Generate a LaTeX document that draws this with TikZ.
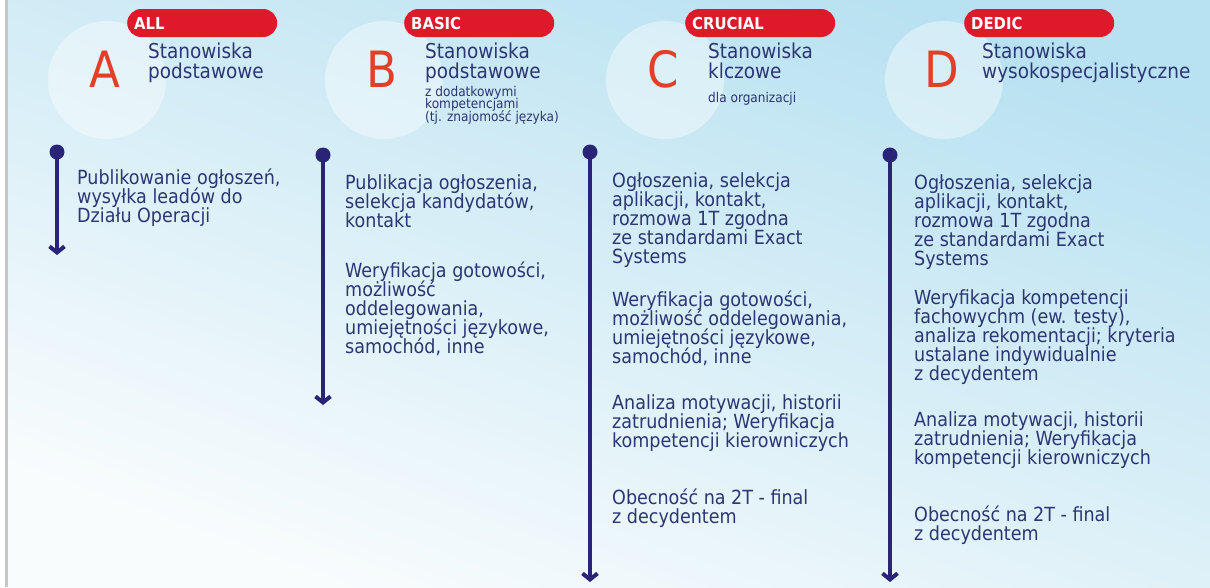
\documentclass[tikz,border=0pt]{standalone}
\usepackage{fontspec}
\setmainfont{DejaVu Sans Condensed}
\usetikzlibrary{arrows.meta,positioning}
\setlength{\lineskiplimit}{-20pt}
\definecolor{ink}{RGB}{42,36,120}
\definecolor{txt}{RGB}{44,54,114}
\definecolor{tagred}{RGB}{224,24,44}
\definecolor{letred}{RGB}{228,62,40}
\definecolor{skyx}{RGB}{184,225,241}
\definecolor{palex}{RGB}{249,252,253}
\tikzset{
    firstline/.style={anchor=north west,yshift=#1,execute at begin node={\rule{0pt}{#1}}},
    bubble/.style={circle,fill=white,opacity=0.4,minimum size=118pt,inner sep=0pt},
    letter/.style={letred,font=\fontsize{50}{50}\selectfont,inner sep=0pt,anchor=base},
    tag/.style={fill=tagred,rounded corners=14pt,minimum width=150pt,minimum height=28pt,
        text width=136pt,align=left,inner xsep=7pt,inner ysep=0pt,
        text=white,font=\bfseries\fontsize{16.5}{16}\selectfont},
    title/.style={txt,font=\fontsize{20.5}{19.5}\selectfont,align=left,inner sep=0pt,firstline=20pt},
    note/.style={txt,font=\fontsize{13.5}{12.3}\selectfont,align=left,inner sep=0pt,firstline=14pt},
    stage/.style={txt,font=\fontsize{19.5}{19}\selectfont,align=left,inner sep=0pt,firstline=20pt},
    dot/.style={circle,fill=ink,inner sep=0pt,minimum size=15pt},
    timeline/.style={ink,line width=4pt,-{Straight Barb[length=6pt,width=15pt]}}
}

\begin{document}
\begin{tikzpicture}[x=1pt,y=-1pt]
    \useasboundingbox (0,0) rectangle (1210,587);
    \fill[white] (0,0) rectangle (1210,587);
    \shade[top color=skyx,bottom color=palex,shading angle=-20] (7,0) rectangle (1210,587);
    \draw[gray!45,line width=2.5pt] (6.5,0) -- (6.5,587);
    \foreach \n/\x/\lab in {A/107/ALL,B/384/BASIC,C/665/CRUCIAL,D/944/DEDIC} {
        \node [bubble] (bub\n) at (\x,80) {};
        \node [letter] (let\n) at (\x-2,87) {\n};
        \node [tag,anchor=west] (tag\n) at (\x+20,23) {\lab};
    }
    \node [title] (titA) at (148,63) {Stanowiska\\podstawowe};
    \node [title] (titB) at (425,63) {Stanowiska\\podstawowe};
    \node [note] (noteB) at (425,100) {z dodatkowymi\\kompetencjami\\(tj. znajomość języka)};
    \node [title] (titC) at (708,63) {Stanowiska\\klczowe};
    \node [note] (noteC) at (708,102) {dla organizacji};
    \node [title] (titD) at (982,63) {Stanowiska\\wysokospecjalistyczne};
    \foreach \n/\x/\y/\e in {A/57/152/255,B/323/155/405,C/590/152/582,D/890/155/582} {
        \coordinate (end\n) at (\x,\e);
        \node [dot] (dot\n) at (\x,\y) {};
        \draw [timeline] (dot\n.center) -- (end\n);
    }
    \node [stage] (a1) at (77,189) {Publikowanie ogłoszeń,\\wysyłka leadów do\\Działu Operacji};
    \node [stage] (b1) at (345,194) {Publikacja ogłoszenia,\\selekcja kandydatów,\\kontakt};
    \node [stage] (b2) at (345,282) {Weryfikacja gotowości,\\możliwość\\oddelegowania,\\umiejętności językowe,\\samochód, inne};
    \node [stage] (c1) at (612,192) {Ogłoszenia, selekcja\\aplikacji, kontakt,\\rozmowa 1T zgodna\\ze standardami Exact\\Systems};
    \node [stage] (c2) at (612,311) {Weryfikacja gotowości,\\możliwość oddelegowania,\\umiejętności językowe,\\samochód, inne};
    \node [stage] (c3) at (612,414) {Analiza motywacji, historii\\zatrudnienia; Weryfikacja\\kompetencji kierowniczych};
    \node [stage] (c4) at (612,509) {Obecność na 2T - final\\z decydentem};
    \node [stage] (d1) at (914,194) {Ogłoszenia, selekcja\\aplikacji, kontakt,\\rozmowa 1T zgodna\\ze standardami Exact\\Systems};
    \node [stage] (d2) at (914,309) {Weryfikacja kompetencji\\fachowychm (ew. testy),\\analiza rekomentacji; kryteria\\ustalane indywidualnie\\z decydentem};
    \node [stage] (d3) at (914,431) {Analiza motywacji, historii\\zatrudnienia; Weryfikacja\\kompetencji kierowniczych};
    \node [stage] (d4) at (914,526) {Obecność na 2T - final\\z decydentem};
\end{tikzpicture}
\end{document}
